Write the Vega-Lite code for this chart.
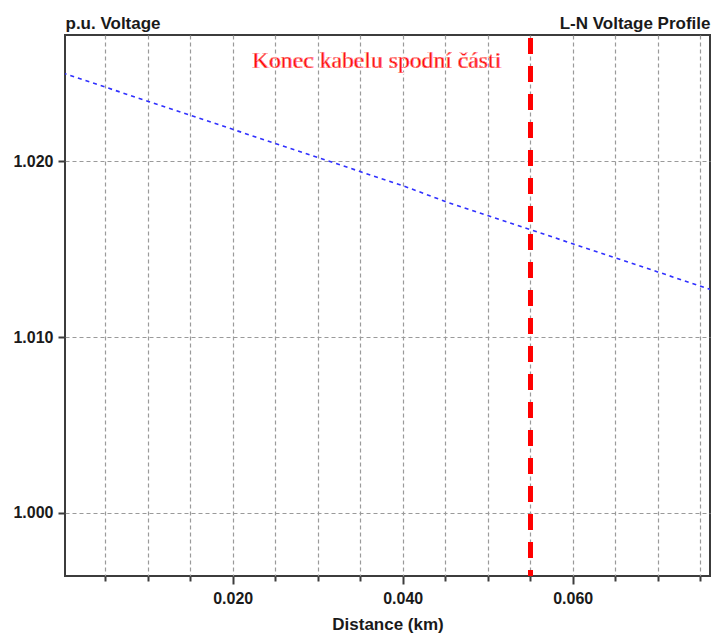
{
  "$schema": "https://vega.github.io/schema/vega-lite/v6.json",
  "width": 645,
  "height": 541,
  "autosize": "none",
  "padding": {"left": 65, "top": 35, "right": 3, "bottom": 59},
  "background": "white",
  "config": {
    "view": {"stroke": "#3c3c3c", "strokeWidth": 2},
    "axis": {
      "labelFont": "Liberation Sans",
      "labelFontWeight": "bold",
      "labelFontSize": 16,
      "labelColor": "#1a1a1a",
      "titleFont": "Liberation Sans",
      "titleFontWeight": "bold",
      "titleFontSize": 17,
      "titleColor": "#1a1a1a",
      "domain": false,
      "tickColor": "#3c3c3c",
      "tickWidth": 2,
      "gridColor": "#9a9a9a",
      "gridDash": [4, 3],
      "gridWidth": 1.2
    }
  },
  "data": {
    "values": [
      {"distance": 0.000, "voltage": 1.0250},
      {"distance": 0.005, "voltage": 1.0242},
      {"distance": 0.010, "voltage": 1.0234},
      {"distance": 0.015, "voltage": 1.0226},
      {"distance": 0.020, "voltage": 1.0218},
      {"distance": 0.025, "voltage": 1.0210},
      {"distance": 0.030, "voltage": 1.0202},
      {"distance": 0.035, "voltage": 1.0194},
      {"distance": 0.040, "voltage": 1.0186},
      {"distance": 0.045, "voltage": 1.0177},
      {"distance": 0.050, "voltage": 1.0169},
      {"distance": 0.055, "voltage": 1.0161},
      {"distance": 0.060, "voltage": 1.0153},
      {"distance": 0.065, "voltage": 1.0145},
      {"distance": 0.070, "voltage": 1.0137},
      {"distance": 0.0762, "voltage": 1.0127}
    ]
  },
  "resolve": {"axis": {"x": "independent"}},
  "layer": [
    {
      "mark": {"type": "line", "color": "#3030ff", "strokeWidth": 1.6, "strokeDash": [4, 4], "clip": true},
      "encoding": {
        "x": {
          "field": "distance",
          "type": "quantitative",
          "scale": {"domain": [0.00027, 0.07615], "nice": false, "zero": false},
          "axis": {
            "orient": "bottom",
            "values": [0.005, 0.010, 0.015, 0.020, 0.025, 0.030, 0.035, 0.040, 0.045, 0.050, 0.055, 0.060, 0.065, 0.070, 0.075],
            "labelExpr": "abs(datum.value*50 - round(datum.value*50)) < 0.000001 ? format(datum.value, '.3f') : ''",
            "tickSize": {"condition": {"test": "abs(datum.value*50 - round(datum.value*50)) < 0.000001", "value": 8}, "value": 5},
            "labelPadding": 6,
            "labelFlush": false,
            "labelOverlap": false,
            "title": "Distance (km)",
            "titlePadding": 10,
            "grid": true
          }
        },
        "y": {
          "field": "voltage",
          "type": "quantitative",
          "scale": {"domain": [0.99642, 1.02716], "nice": false, "zero": false},
          "axis": {
            "values": [1.000, 1.010, 1.020],
            "format": ".3f",
            "tickSize": 7,
            "labelPadding": 5,
            "grid": true,
            "title": "p.u. Voltage",
            "titleAngle": 0,
            "titleAlign": "left",
            "titleBaseline": "alphabetic",
            "titleX": 0,
            "titleY": -7
          }
        }
      }
    },
    {
      "mark": {"type": "rule", "color": "#ff0000", "strokeWidth": 4, "strokeDash": [16, 12], "strokeDashOffset": -3},
      "encoding": {
        "x": {
          "datum": 0.055,
          "type": "quantitative",
          "axis": {
            "orient": "top",
            "labels": false,
            "ticks": false,
            "domain": false,
            "grid": false,
            "title": "L-N Voltage Profile",
            "titleAnchor": "end",
            "titleAlign": "right",
            "titleBaseline": "alphabetic",
            "titleX": 645,
            "titleY": -7
          }
        }
      }
    },
    {
      "mark": {"type": "text", "fill": "#ff0000", "stroke": "white", "strokeWidth": 0.3, "font": "Liberation Serif", "fontWeight": "normal", "fontSize": 23.7, "align": "right", "baseline": "alphabetic", "dx": -29, "dy": -1},
      "encoding": {
        "x": {"datum": 0.055, "type": "quantitative", "axis": null},
        "y": {
          "datum": 1.02524,
          "type": "quantitative",
          "axis": {
            "values": [1.000, 1.010, 1.020],
            "format": ".3f",
            "tickSize": 7,
            "labelPadding": 5,
            "grid": true,
            "title": "p.u. Voltage",
            "titleAngle": 0,
            "titleAlign": "left",
            "titleBaseline": "alphabetic",
            "titleX": 0,
            "titleY": -7
          }
        },
        "text": {"value": "Konec kabelu spodní části"}
      }
    }
  ]
}
